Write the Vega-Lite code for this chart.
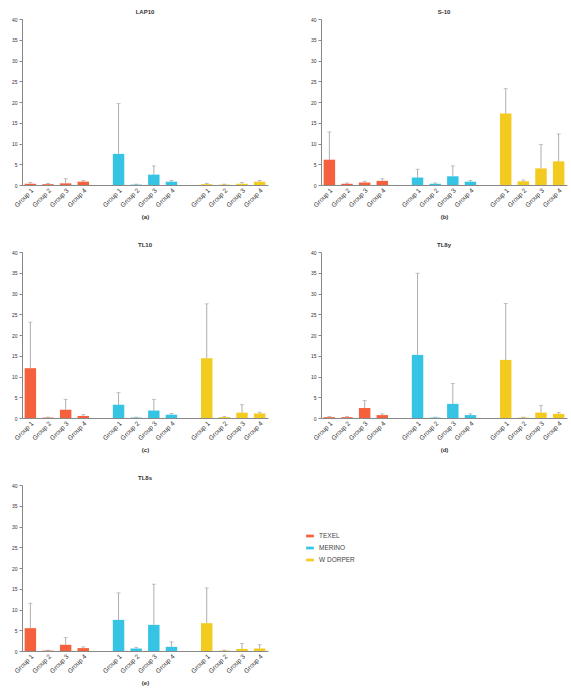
{
  "$schema": "https://vega.github.io/schema/vega-lite/v6.json",
  "padding": {"left": 11, "top": 9, "right": 2, "bottom": 2},
  "background": "white",
  "datasets": {
    "d": [
      {"panel": "a", "breed": "TEXEL", "group": "Group 1", "mean": 0.3, "upper": 0.6},
      {"panel": "a", "breed": "TEXEL", "group": "Group 2", "mean": 0.2, "upper": 0.4},
      {"panel": "a", "breed": "TEXEL", "group": "Group 3", "mean": 0.4, "upper": 1.5},
      {"panel": "a", "breed": "TEXEL", "group": "Group 4", "mean": 0.8, "upper": 1.1},
      {"panel": "a", "breed": "MERINO", "group": "Group 1", "mean": 7.5, "upper": 19.6},
      {"panel": "a", "breed": "MERINO", "group": "Group 2", "mean": 0.1, "upper": 0.2},
      {"panel": "a", "breed": "MERINO", "group": "Group 3", "mean": 2.5, "upper": 4.6},
      {"panel": "a", "breed": "MERINO", "group": "Group 4", "mean": 0.8, "upper": 1.1},
      {"panel": "a", "breed": "W DORPER", "group": "Group 1", "mean": 0.2, "upper": 0.4},
      {"panel": "a", "breed": "W DORPER", "group": "Group 2", "mean": 0.1, "upper": 0.2},
      {"panel": "a", "breed": "W DORPER", "group": "Group 3", "mean": 0.3, "upper": 0.6},
      {"panel": "a", "breed": "W DORPER", "group": "Group 4", "mean": 0.8, "upper": 1.1},

      {"panel": "b", "breed": "TEXEL", "group": "Group 1", "mean": 6.1, "upper": 12.8},
      {"panel": "b", "breed": "TEXEL", "group": "Group 2", "mean": 0.3, "upper": 0.5},
      {"panel": "b", "breed": "TEXEL", "group": "Group 3", "mean": 0.6, "upper": 0.9},
      {"panel": "b", "breed": "TEXEL", "group": "Group 4", "mean": 1.0, "upper": 1.5},
      {"panel": "b", "breed": "MERINO", "group": "Group 1", "mean": 1.8, "upper": 3.8},
      {"panel": "b", "breed": "MERINO", "group": "Group 2", "mean": 0.3, "upper": 0.5},
      {"panel": "b", "breed": "MERINO", "group": "Group 3", "mean": 2.1, "upper": 4.6},
      {"panel": "b", "breed": "MERINO", "group": "Group 4", "mean": 0.8, "upper": 1.1},
      {"panel": "b", "breed": "W DORPER", "group": "Group 1", "mean": 17.2, "upper": 23.2},
      {"panel": "b", "breed": "W DORPER", "group": "Group 2", "mean": 0.9, "upper": 1.2},
      {"panel": "b", "breed": "W DORPER", "group": "Group 3", "mean": 4.0, "upper": 9.8},
      {"panel": "b", "breed": "W DORPER", "group": "Group 4", "mean": 5.7, "upper": 12.3},

      {"panel": "c", "breed": "TEXEL", "group": "Group 1", "mean": 12.0, "upper": 23.1},
      {"panel": "c", "breed": "TEXEL", "group": "Group 2", "mean": 0.1, "upper": 0.2},
      {"panel": "c", "breed": "TEXEL", "group": "Group 3", "mean": 2.0, "upper": 4.5},
      {"panel": "c", "breed": "TEXEL", "group": "Group 4", "mean": 0.5, "upper": 0.8},
      {"panel": "c", "breed": "MERINO", "group": "Group 1", "mean": 3.2, "upper": 6.1},
      {"panel": "c", "breed": "MERINO", "group": "Group 2", "mean": 0.1, "upper": 0.2},
      {"panel": "c", "breed": "MERINO", "group": "Group 3", "mean": 1.8, "upper": 4.5},
      {"panel": "c", "breed": "MERINO", "group": "Group 4", "mean": 0.8, "upper": 1.1},
      {"panel": "c", "breed": "W DORPER", "group": "Group 1", "mean": 14.4, "upper": 27.5},
      {"panel": "c", "breed": "W DORPER", "group": "Group 2", "mean": 0.2, "upper": 0.4},
      {"panel": "c", "breed": "W DORPER", "group": "Group 3", "mean": 1.3, "upper": 3.2},
      {"panel": "c", "breed": "W DORPER", "group": "Group 4", "mean": 1.1, "upper": 1.4},

      {"panel": "d", "breed": "TEXEL", "group": "Group 1", "mean": 0.2, "upper": 0.4},
      {"panel": "d", "breed": "TEXEL", "group": "Group 2", "mean": 0.2, "upper": 0.4},
      {"panel": "d", "breed": "TEXEL", "group": "Group 3", "mean": 2.4, "upper": 4.2},
      {"panel": "d", "breed": "TEXEL", "group": "Group 4", "mean": 0.7, "upper": 1.0},
      {"panel": "d", "breed": "MERINO", "group": "Group 1", "mean": 15.2, "upper": 34.9},
      {"panel": "d", "breed": "MERINO", "group": "Group 2", "mean": 0.1, "upper": 0.2},
      {"panel": "d", "breed": "MERINO", "group": "Group 3", "mean": 3.4, "upper": 8.3},
      {"panel": "d", "breed": "MERINO", "group": "Group 4", "mean": 0.7, "upper": 1.0},
      {"panel": "d", "breed": "W DORPER", "group": "Group 1", "mean": 14.0, "upper": 27.6},
      {"panel": "d", "breed": "W DORPER", "group": "Group 2", "mean": 0.1, "upper": 0.2},
      {"panel": "d", "breed": "W DORPER", "group": "Group 3", "mean": 1.3, "upper": 3.0},
      {"panel": "d", "breed": "W DORPER", "group": "Group 4", "mean": 1.0, "upper": 1.3},

      {"panel": "e", "breed": "TEXEL", "group": "Group 1", "mean": 5.5, "upper": 11.5},
      {"panel": "e", "breed": "TEXEL", "group": "Group 2", "mean": 0.1, "upper": 0.2},
      {"panel": "e", "breed": "TEXEL", "group": "Group 3", "mean": 1.5, "upper": 3.2},
      {"panel": "e", "breed": "TEXEL", "group": "Group 4", "mean": 0.7, "upper": 1.0},
      {"panel": "e", "breed": "MERINO", "group": "Group 1", "mean": 7.5, "upper": 14.0},
      {"panel": "e", "breed": "MERINO", "group": "Group 2", "mean": 0.6, "upper": 0.9},
      {"panel": "e", "breed": "MERINO", "group": "Group 3", "mean": 6.3, "upper": 16.1},
      {"panel": "e", "breed": "MERINO", "group": "Group 4", "mean": 1.0, "upper": 2.2},
      {"panel": "e", "breed": "W DORPER", "group": "Group 1", "mean": 6.7, "upper": 15.2},
      {"panel": "e", "breed": "W DORPER", "group": "Group 2", "mean": 0.1, "upper": 0.2},
      {"panel": "e", "breed": "W DORPER", "group": "Group 3", "mean": 0.5, "upper": 1.8},
      {"panel": "e", "breed": "W DORPER", "group": "Group 4", "mean": 0.6, "upper": 1.5}
    ]
  },
  "columns": 2,
  "spacing": {"row": 22, "column": 42},
  "concat": [
    {
      "title": "LAP10",
      "width": 246, "height": 166,
      "data": {"name": "d"},
      "transform": [{"filter": "datum.panel === 'a'"}, {"calculate": "datum.breed + '|' + datum.group", "as": "key"}],
      "encoding": {
        "x": {"field": "key", "type": "nominal", "title": "(a)",
          "scale": {"domain": ["TEXEL|Group 1","TEXEL|Group 2","TEXEL|Group 3","TEXEL|Group 4","gap1","MERINO|Group 1","MERINO|Group 2","MERINO|Group 3","MERINO|Group 4","gap2","W DORPER|Group 1","W DORPER|Group 2","W DORPER|Group 3","W DORPER|Group 4"], "paddingInner": 0.35, "paddingOuter": 0.15},
          "axis": {"labelExpr": "indexof(datum.value,'gap') >= 0 ? '' : split(datum.value,'|')[1]"}}
      },
      "layer": [
        {"mark": {"type": "bar"}, "encoding": {"y": {"field": "mean", "type": "quantitative", "scale": {"domain": [0, 40]}, "title": null, "axis": {"values": [0, 5, 10, 15, 20, 25, 30, 35, 40], "labelOverlap": false}}, "color": {"field": "breed", "type": "nominal"}}},
        {"mark": {"type": "rule", "color": "#999999", "strokeWidth": 0.8}, "encoding": {"y": {"field": "mean", "type": "quantitative", "axis": {"values": [0, 5, 10, 15, 20, 25, 30, 35, 40], "labelOverlap": false}}, "y2": {"field": "upper"}}},
        {"mark": {"type": "tick", "color": "#999999", "thickness": 0.8, "size": 4}, "encoding": {"y": {"field": "upper", "type": "quantitative", "axis": {"values": [0, 5, 10, 15, 20, 25, 30, 35, 40], "labelOverlap": false}}}}
      ]
    },
    {
      "title": "S-10",
      "width": 246, "height": 166,
      "data": {"name": "d"},
      "transform": [{"filter": "datum.panel === 'b'"}, {"calculate": "datum.breed + '|' + datum.group", "as": "key"}],
      "encoding": {
        "x": {"field": "key", "type": "nominal", "title": "(b)",
          "scale": {"domain": ["TEXEL|Group 1","TEXEL|Group 2","TEXEL|Group 3","TEXEL|Group 4","gap1","MERINO|Group 1","MERINO|Group 2","MERINO|Group 3","MERINO|Group 4","gap2","W DORPER|Group 1","W DORPER|Group 2","W DORPER|Group 3","W DORPER|Group 4"], "paddingInner": 0.35, "paddingOuter": 0.15},
          "axis": {"labelExpr": "indexof(datum.value,'gap') >= 0 ? '' : split(datum.value,'|')[1]"}}
      },
      "layer": [
        {"mark": {"type": "bar"}, "encoding": {"y": {"field": "mean", "type": "quantitative", "scale": {"domain": [0, 40]}, "title": null, "axis": {"values": [0, 5, 10, 15, 20, 25, 30, 35, 40], "labelOverlap": false}}, "color": {"field": "breed", "type": "nominal"}}},
        {"mark": {"type": "rule", "color": "#999999", "strokeWidth": 0.8}, "encoding": {"y": {"field": "mean", "type": "quantitative", "axis": {"values": [0, 5, 10, 15, 20, 25, 30, 35, 40], "labelOverlap": false}}, "y2": {"field": "upper"}}},
        {"mark": {"type": "tick", "color": "#999999", "thickness": 0.8, "size": 4}, "encoding": {"y": {"field": "upper", "type": "quantitative", "axis": {"values": [0, 5, 10, 15, 20, 25, 30, 35, 40], "labelOverlap": false}}}}
      ]
    },
    {
      "title": "TL10",
      "width": 246, "height": 166,
      "data": {"name": "d"},
      "transform": [{"filter": "datum.panel === 'c'"}, {"calculate": "datum.breed + '|' + datum.group", "as": "key"}],
      "encoding": {
        "x": {"field": "key", "type": "nominal", "title": "(c)",
          "scale": {"domain": ["TEXEL|Group 1","TEXEL|Group 2","TEXEL|Group 3","TEXEL|Group 4","gap1","MERINO|Group 1","MERINO|Group 2","MERINO|Group 3","MERINO|Group 4","gap2","W DORPER|Group 1","W DORPER|Group 2","W DORPER|Group 3","W DORPER|Group 4"], "paddingInner": 0.35, "paddingOuter": 0.15},
          "axis": {"labelExpr": "indexof(datum.value,'gap') >= 0 ? '' : split(datum.value,'|')[1]"}}
      },
      "layer": [
        {"mark": {"type": "bar"}, "encoding": {"y": {"field": "mean", "type": "quantitative", "scale": {"domain": [0, 40]}, "title": null, "axis": {"values": [0, 5, 10, 15, 20, 25, 30, 35, 40], "labelOverlap": false}}, "color": {"field": "breed", "type": "nominal"}}},
        {"mark": {"type": "rule", "color": "#999999", "strokeWidth": 0.8}, "encoding": {"y": {"field": "mean", "type": "quantitative", "axis": {"values": [0, 5, 10, 15, 20, 25, 30, 35, 40], "labelOverlap": false}}, "y2": {"field": "upper"}}},
        {"mark": {"type": "tick", "color": "#999999", "thickness": 0.8, "size": 4}, "encoding": {"y": {"field": "upper", "type": "quantitative", "axis": {"values": [0, 5, 10, 15, 20, 25, 30, 35, 40], "labelOverlap": false}}}}
      ]
    },
    {
      "title": "TL8y",
      "width": 246, "height": 166,
      "data": {"name": "d"},
      "transform": [{"filter": "datum.panel === 'd'"}, {"calculate": "datum.breed + '|' + datum.group", "as": "key"}],
      "encoding": {
        "x": {"field": "key", "type": "nominal", "title": "(d)",
          "scale": {"domain": ["TEXEL|Group 1","TEXEL|Group 2","TEXEL|Group 3","TEXEL|Group 4","gap1","MERINO|Group 1","MERINO|Group 2","MERINO|Group 3","MERINO|Group 4","gap2","W DORPER|Group 1","W DORPER|Group 2","W DORPER|Group 3","W DORPER|Group 4"], "paddingInner": 0.35, "paddingOuter": 0.15},
          "axis": {"labelExpr": "indexof(datum.value,'gap') >= 0 ? '' : split(datum.value,'|')[1]"}}
      },
      "layer": [
        {"mark": {"type": "bar"}, "encoding": {"y": {"field": "mean", "type": "quantitative", "scale": {"domain": [0, 40]}, "title": null, "axis": {"values": [0, 5, 10, 15, 20, 25, 30, 35, 40], "labelOverlap": false}}, "color": {"field": "breed", "type": "nominal"}}},
        {"mark": {"type": "rule", "color": "#999999", "strokeWidth": 0.8}, "encoding": {"y": {"field": "mean", "type": "quantitative", "axis": {"values": [0, 5, 10, 15, 20, 25, 30, 35, 40], "labelOverlap": false}}, "y2": {"field": "upper"}}},
        {"mark": {"type": "tick", "color": "#999999", "thickness": 0.8, "size": 4}, "encoding": {"y": {"field": "upper", "type": "quantitative", "axis": {"values": [0, 5, 10, 15, 20, 25, 30, 35, 40], "labelOverlap": false}}}}
      ]
    },
    {
      "title": "TL8s",
      "width": 246, "height": 166,
      "data": {"name": "d"},
      "transform": [{"filter": "datum.panel === 'e'"}, {"calculate": "datum.breed + '|' + datum.group", "as": "key"}],
      "encoding": {
        "x": {"field": "key", "type": "nominal", "title": "(e)",
          "scale": {"domain": ["TEXEL|Group 1","TEXEL|Group 2","TEXEL|Group 3","TEXEL|Group 4","gap1","MERINO|Group 1","MERINO|Group 2","MERINO|Group 3","MERINO|Group 4","gap2","W DORPER|Group 1","W DORPER|Group 2","W DORPER|Group 3","W DORPER|Group 4"], "paddingInner": 0.35, "paddingOuter": 0.15},
          "axis": {"labelExpr": "indexof(datum.value,'gap') >= 0 ? '' : split(datum.value,'|')[1]"}}
      },
      "layer": [
        {"mark": {"type": "bar"}, "encoding": {"y": {"field": "mean", "type": "quantitative", "scale": {"domain": [0, 40]}, "title": null, "axis": {"values": [0, 5, 10, 15, 20, 25, 30, 35, 40], "labelOverlap": false}}, "color": {"field": "breed", "type": "nominal",
          "scale": {"domain": ["TEXEL", "MERINO", "W DORPER"], "range": ["#F4613C", "#36C4E5", "#F3CA1F"]},
          "legend": {"title": null, "orient": "none", "legendX": 283, "legendY": 512, "symbolType": "M-1,-0.35H1V0.35H-1Z", "symbolSize": 60, "labelFontSize": 6.5, "rowPadding": 3}}}},
        {"mark": {"type": "rule", "color": "#999999", "strokeWidth": 0.8}, "encoding": {"y": {"field": "mean", "type": "quantitative", "axis": {"values": [0, 5, 10, 15, 20, 25, 30, 35, 40], "labelOverlap": false}}, "y2": {"field": "upper"}}},
        {"mark": {"type": "tick", "color": "#999999", "thickness": 0.8, "size": 4}, "encoding": {"y": {"field": "upper", "type": "quantitative", "axis": {"values": [0, 5, 10, 15, 20, 25, 30, 35, 40], "labelOverlap": false}}}}
      ]
    }
  ],
  "resolve": {"scale": {"color": "shared"}},
  "config": {
    "font": "Liberation Sans",
    "view": {"stroke": null},
    "title": {"fontSize": 6, "fontWeight": "bold", "offset": 2, "color": "#333333"},
    "range": {"category": ["#F4613C", "#36C4E5", "#F3CA1F"]},
    "axis": {"grid": false, "labelFontSize": 5, "titleFontSize": 6, "titleFontWeight": "bold", "domainColor": "#888888", "tickColor": "#888888", "labelColor": "#333333", "titleColor": "#333333", "tickSize": 3},
    "axisX": {"labelAngle": -45, "ticks": false, "titlePadding": 5, "labelPadding": 2, "labelFontSize": 6.5, "labelColor": "#333333"},
    "axisY": {"labelPadding": 2},
    "legend": {"labelColor": "#444444"}
  }
}
